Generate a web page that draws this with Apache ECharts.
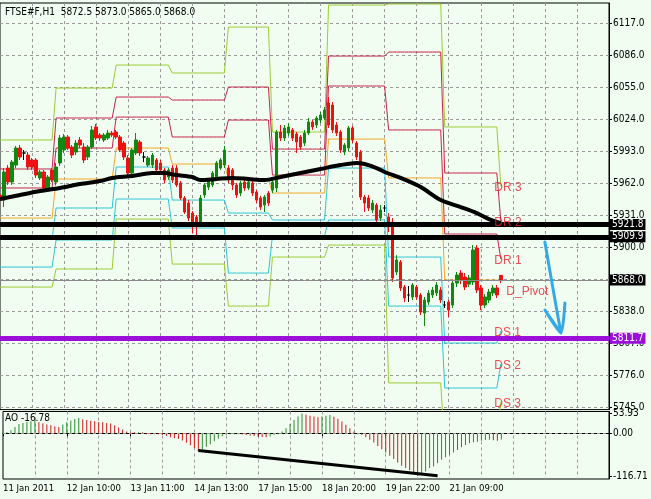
<!DOCTYPE html>
<html><head><meta charset="utf-8">
<script src="https://cdn.jsdelivr.net/npm/echarts@6/dist/echarts.min.js"></script>
<style>html,body{margin:0;padding:0;background:#F0FDF0;}#c{width:651px;height:499px;}</style>
</head><body><div id="c"></div>
<script>
// ---------------- DATA ----------------
const symbolName = 'FTSE#F,H1';
const lastQuote = [5872.5, 5873.0, 5865.0, 5868.0];
const timeLabels = ['11 Jan 2011','12 Jan 10:00','13 Jan 11:00','14 Jan 13:00','17 Jan 15:00','18 Jan 20:00','19 Jan 22:00','21 Jan 09:00'];
const priceTicks = [6117,6086,6055,6024,5993,5962,5931,5900,5869,5838,5807,5776,5745];
const aoTicks = [53.93, 0, -116.71];
// [open, close, low, high]
const candles = [
[5950.4,5945.5,5940.7,5953.3],[5945.5,5972.7,5938.7,5976.5],[5976.5,5963.0,5960.1,5979.4],[5963.0,5982.3,5960.1,5984.3],
[5979.4,5995.9,5976.5,5997.9],[5995.9,5987.2,5984.3,5998.8],[5991.1,5991.1,5984.3,5994.0],[5989.1,5977.5,5974.6,5992.0],
[5984.3,5977.5,5974.6,5986.2],[5984.3,5969.7,5966.9,5986.2],[5966.9,5972.7,5964.9,5974.6],[5972.7,5957.2,5955.2,5974.6],
[5957.2,5967.8,5954.2,5969.7],[5974.6,5964.9,5963.0,5976.5],[5963.0,5977.5,5960.1,5981.4],[5981.4,6005.6,5978.5,6008.5],
[5994.0,6006.6,5991.1,6009.5],[6006.6,5995.9,5994.0,6008.5],[5996.9,5989.1,5986.2,5998.8],[5992.0,6000.7,5989.1,6003.7],
[6003.7,5998.8,5995.9,6006.6],[5996.9,5984.3,5981.4,6000.7],[5987.2,5996.9,5984.3,5998.8],[5996.9,6013.4,5994.9,6017.2],
[6016.3,6005.6,6003.7,6019.2],[6008.5,6005.6,6002.7,6010.4],[6003.7,6008.5,6001.7,6010.4],[6005.6,6010.4,6003.7,6013.4],
[6010.4,6008.5,6006.6,6012.4],[6011.4,6006.6,6004.6,6013.4],[6006.6,5994.0,5992.0,6008.5],[6000.7,5987.2,5984.3,6002.7],
[5986.2,5971.7,5969.7,5989.1],[5971.7,5994.0,5968.8,5995.9],[5991.1,6003.7,5989.1,6010.4],[6001.7,5991.1,5988.2,6003.7],
[5987.2,5987.2,5982.3,5992.0],[5979.4,5986.2,5977.5,5988.2],[5979.4,5989.1,5976.5,5991.1],[5984.3,5974.6,5972.7,5986.2],
[5981.4,5974.6,5971.7,5984.3],[5974.6,5964.9,5962.0,5976.5],[5967.8,5974.6,5964.9,5976.5],[5976.5,5964.9,5962.0,5979.4],
[5976.5,5960.1,5958.1,5979.4],[5962.0,5947.5,5945.5,5964.0],[5947.5,5933.9,5932.0,5949.4],[5942.6,5928.1,5925.2,5945.5],
[5932.9,5924.2,5913.6,5934.9],[5929.1,5920.3,5911.6,5931.0],[5924.2,5947.5,5921.3,5950.4],[5950.4,5960.1,5947.5,5962.0],
[5958.1,5964.9,5955.2,5966.9],[5960.1,5971.7,5958.1,5973.6],[5967.8,5981.4,5964.9,5983.3],[5976.5,5984.3,5974.6,5986.2],
[5979.4,5994.0,5976.5,5997.9],[5976.5,5964.9,5962.0,5979.4],[5974.6,5960.1,5955.2,5976.5],[5960.1,5950.4,5947.5,5962.0],
[5952.3,5962.0,5949.4,5964.0],[5963.0,5957.2,5954.2,5964.9],[5957.2,5963.0,5955.2,5964.9],[5962.0,5952.3,5949.4,5964.0],
[5953.3,5945.5,5942.6,5955.2],[5947.5,5938.7,5935.9,5949.4],[5940.7,5948.4,5933.9,5950.4],[5952.3,5942.6,5939.7,5954.2],
[5955.2,5963.0,5952.3,5966.9],[5957.2,6011.4,5953.3,6013.4],[6011.4,6005.6,6002.7,6018.2],[6005.6,6015.3,6002.7,6018.2],
[6010.4,6016.3,6007.5,6020.1],[6013.4,6005.6,6002.7,6015.3],[6009.5,6001.7,5991.1,6011.4],[6006.6,5996.9,5994.0,6008.5],
[6000.7,6010.4,5997.9,6013.4],[6010.4,6021.1,6008.5,6025.0],[6021.1,6016.3,6013.4,6023.0],[6018.2,6025.0,6015.3,6026.9],
[6023.0,6027.9,6020.1,6030.8],[6025.0,6032.7,6023.0,6035.6],[6039.5,6018.2,6015.3,6045.3],[6037.6,6013.4,6010.4,6040.5],
[6018.2,6010.4,6007.5,6021.1],[6011.4,5994.0,5991.1,6013.4],[5992.0,5998.8,5989.1,6000.7],[5995.9,6015.3,5993.0,6017.2],
[6015.3,6003.7,6000.7,6017.2],[6000.7,5987.2,5984.3,6002.7],[5992.0,5948.4,5945.5,5994.0],[5948.4,5942.6,5933.9,5950.4],
[5947.5,5937.8,5934.9,5950.4],[5935.9,5942.6,5932.9,5945.5],[5940.7,5926.2,5921.3,5942.6],[5928.1,5935.9,5925.2,5940.7],
[5937.8,5937.8,5933.9,5940.7],[5929.1,5919.4,5914.5,5932.9],[5924.2,5870.0,5866.1,5928.1],[5875.8,5887.4,5872.9,5892.2],
[5885.5,5860.3,5857.4,5887.4],[5861.2,5850.6,5846.7,5863.2],[5853.5,5853.5,5846.7,5862.2],[5851.6,5863.2,5848.7,5865.1],
[5861.2,5851.6,5848.7,5863.2],[5853.5,5837.0,5834.1,5855.4],[5836.0,5848.7,5823.4,5851.6],[5846.7,5855.4,5843.8,5858.3],
[5853.5,5858.3,5850.6,5861.2],[5855.4,5863.2,5852.5,5866.1],[5858.3,5848.7,5845.7,5861.2],[5843.8,5843.8,5840.9,5847.7],
[5846.7,5838.9,5832.2,5848.7],[5843.8,5865.1,5840.9,5868.0],[5865.1,5872.9,5861.2,5875.8],[5874.8,5868.0,5864.1,5877.7],
[5870.9,5861.2,5858.3,5874.8],[5864.1,5870.0,5861.2,5872.9],[5866.1,5897.1,5863.2,5901.9],[5899.0,5858.3,5855.4,5901.9],
[5860.3,5843.8,5838.9,5863.2],[5843.8,5851.6,5840.9,5854.5],[5848.7,5856.4,5845.7,5859.3],[5855.4,5860.3,5852.5,5863.2],
[5860.3,5853.5,5850.6,5863.2],[5872.5,5868.0,5865.0,5873.0]
];
// moving average samples [bar, price]
const maPoints = [[0,5946.5],[5,5950.4],[10,5954.2],[15,5957.2],[20,5961.0],[25,5963.9],[28,5966.9],[33,5968.8],[38,5971.7],[41,5971.7],[44,5969.7],[48,5967.8],[50,5964.9],[54,5965.9],[58,5966.9],[62,5965.9],[66,5964.9],[70,5967.8],[75,5971.7],[80,5975.6],[85,5979.4],[89,5981.4],[91,5980.4],[94,5976.5],[96,5972.7],[100,5966.9],[105,5958.1],[110,5945.5],[115,5938.7],[119,5932.9],[122,5927.1],[125,5923.2]];
// daily pivot levels: one per day (day starts below) + next-day value on last bar
const dayStart = [0,14,29,43,57,68,82,97,111];
const pivotR3 = [6003.7,6054.0,6076.3,6068.6,6113.1,6011.4,6134.4,6135.4,6016.3,5959.1];
const pivotR2 = [5975.6,6025.0,6045.3,6042.4,6055.0,5994.9,6085.0,6088.9,5971.7,5925.2];
const pivotR1 = [5957.2,5995.9,6025.9,6006.6,6023.0,5969.7,6056.0,6013.4,5912.6,5888.4];
const pivotP  = [5928.1,5965.9,5995.9,5980.4,5965.9,5952.3,6004.6,5966.9,5868.0,5867.1];
const pivotS1 = [5907.7,5937.8,5977.5,5945.5,5932.9,5926.2,5976.5,5890.3,5807.0,5818.6];
const pivotS2 = [5880.6,5906.8,5946.5,5918.4,5874.8,5910.7,5926.2,5842.8,5763.4,5786.7];
const pivotS3 = [5861.2,5878.7,5927.1,5883.5,5842.8,5890.3,5901.9,5768.3,5705.3,5749.9];
const pivotNames = ['DR 3','DR 2','DR 1','D_Pivot','DS 1','DS 2','DS 3'];
const blackLevels = [5921.8, 5909.9];
const purpleLevel = 5811.7;
const aoValues = [0.5,1,8,17,25,28,31,33,36,30,27,24,22,19,17,24,30,35,39,42,
38,36,34,33,31,30,28,27,22,16,10,5,1,0.5,1,0.5,-0.5,-1,-1.5,-2,
-4.6,-7.3,-11,-13.8,-16,-20,-26,-33,-40,-49,-44,-37,-30,-22,-15,-8,-4,-2,-0.5,-1.5,
-3,-5,-6,-7.3,-9,-10,-11,-9,-5,-1,5,14,25,36,46,53.93,51,48,46,44,
46,48,50,45,40,32,23,14,5,-1,-5,-11,-18,-25.5,-34.5,-43.5,-52.5,-61.6,-70.6,-79.7,
-88.7,-95,-101.4,-108.6,-116.71,-113.3,-104.3,-95.2,-90.7,-81.7,-72.6,-65.4,-59,-52.7,-45.5,-38.3,-31.9,-27.4,-24.7,-22.9,
-20.2,-18.4,-17.5,-19,-20.5,-16.78];
const aoTrend = [[49,-47],[109,-116]];
const arrowPath = [[136,5904.9],[137.6,5860],[139.8,5816.7],[135.5,5839.0],[139.8,5816.7],[141.3,5845.8]];

// ---------------- BUILD ----------------
const N_SLOTS = 153;
const cats = [];
for (let i = 0; i < N_SLOTS; i++) cats.push(String(i));
const nBars = candles.length;
function dayOf(i){ let d = 0; for (let k = 0; k < dayStart.length; k++) if (i >= dayStart[k]) d = k; return d; }
function pivotSeries(levels){
  const out = [];
  for (let i = 0; i < nBars; i++) out.push(i === nBars - 1 ? levels[levels.length - 1] : levels[dayOf(i)]);
  return out;
}
const FONT = "'DejaVu Sans Condensed', 'Liberation Sans', sans-serif";
const FONT2 = "'Liberation Sans', Arial, sans-serif";
const UP = '#118811', DN = '#EE1111';
const OLIVE = '#9ACD32', CRIM = '#C8234A', ORNG = '#F5A623', CYAN = '#2EC5D6';
const pivotDefs = [[pivotR3,OLIVE],[pivotR2,CRIM],[pivotR1,CRIM],[pivotP,ORNG],[pivotS1,CYAN],[pivotS2,CYAN],[pivotS3,OLIVE]];
const gridDash = {color:'#9a9a9a', type:[3,3], width:1};

const series = [];
pivotDefs.forEach(([lv,col]) => series.push({
  type:'line', xAxisIndex:0, yAxisIndex:0, data: pivotSeries(lv), showSymbol:false, symbol:'none',
  lineStyle:{color:col, width:1}, z:1, silent:true
}));
series.push({
  type:'candlestick', xAxisIndex:0, yAxisIndex:0, barWidth:3, z:3,
  itemStyle:{color:UP, color0:DN, borderColor:UP, borderColor0:DN, borderWidth:1},
  data: candles.map(c => c[0] === c[1]
     ? {value:c, itemStyle:{color:'#000', color0:'#000', borderColor:'#000', borderColor0:'#000'}}
     : c)
});
series.push({
  type:'line', xAxisIndex:0, yAxisIndex:0, data: maPoints, showSymbol:false, symbol:'none',
  smooth:0.3, lineStyle:{color:'#000', width:4}, z:4
});
// horizontal levels with axis tags
const tag = (bg) => ({show:true, position:'end', distance:1, formatter:(p)=>Number(p.value).toFixed(1),
  backgroundColor:bg, color:'#fff', padding:[1,2,0,2], fontSize:10, fontFamily:FONT});
series.push({
  type:'line', xAxisIndex:0, yAxisIndex:0, data:[], z:5,
  markLine:{symbol:'none', silent:true, animation:false, data:[
    {yAxis:lastQuote[3], lineStyle:{color:'#8a8a8a', width:1, type:'solid'}, label:tag('#000')},
    {yAxis:blackLevels[0], lineStyle:{color:'#000', width:5, type:'solid'}, label:tag('#000')},
    {yAxis:blackLevels[1], lineStyle:{color:'#000', width:5, type:'solid'}, label:tag('#000')},
    {yAxis:purpleLevel, lineStyle:{color:'#9B10D8', width:5, type:'solid'}, label:tag('#9B10D8')}
  ]}
});
// pivot name labels
series.push({
  type:'scatter', xAxisIndex:0, yAxisIndex:0, symbolSize:1, itemStyle:{color:'rgba(0,0,0,0)'}, z:6, silent:true,
  data: pivotDefs.map(([lv],k) => ({
    value:[k === 3 ? 126 : 123, lv[lv.length-1]], name:pivotNames[k],
    label:{show:true, position:'right', distance:1, formatter:pivotNames[k], color:'#E0242E',
      fontSize:12, fontFamily:FONT2, offset:[0, k === 3 ? 11 : 2]}
  }))
});
// arrow annotation
series.push({
  type:'line', xAxisIndex:0, yAxisIndex:0, data: arrowPath, showSymbol:false, symbol:'none', smooth:0.2,
  lineStyle:{color:'#35A9E6', width:3, cap:'round', join:'round'}, z:6, silent:true
});
// AO histogram
series.push({
  type:'bar', xAxisIndex:1, yAxisIndex:1, barWidth:1, barMinHeight:1, z:2,
  data: aoValues.map((v,i) => ({value:v, itemStyle:{color: (i === 0 || v >= aoValues[i-1]) ? '#2C8C2C' : '#D41A1A'}})),
  markLine:{symbol:'none', silent:true, animation:false, label:{show:false},
    data:[{yAxis:0, lineStyle:{color:'#9a9a9a', type:[3,3], width:1}}]}
});
series.push({
  type:'line', xAxisIndex:1, yAxisIndex:1, data: aoTrend, showSymbol:false, symbol:'none',
  lineStyle:{color:'#000', width:3}, z:4
});

const option = {
  backgroundColor:'#F0FDF0',
  animation:false,
  title:[
    {text: symbolName + '  ' + lastQuote.map(v=>v.toFixed(1)).join(' '), left:5, top:7, padding:0,
     textStyle:{fontSize:10, fontWeight:'normal', color:'#000', fontFamily:FONT}},
    {text: 'AO ' + aoValues[aoValues.length-1].toFixed(2), left:5, top:413, padding:0,
     textStyle:{fontSize:10, fontWeight:'normal', color:'#000', fontFamily:FONT}}
  ],
  grid:[
    {left:0, top:3, width:609, height:406.6, show:true, borderColor:'#000', borderWidth:1, backgroundColor:'transparent'},
    {left:0, top:411.5, width:609, height:67.5, show:true, borderColor:'#000', borderWidth:1, backgroundColor:'transparent'}
  ],
  xAxis:[
    {gridIndex:0, type:'category', data:cats, boundaryGap:false,
     axisLine:{show:false}, axisTick:{show:false}, axisLabel:{show:false},
     splitLine:{show:true, interval:(i)=> i % 8 === 0 && i > 0, lineStyle:gridDash}},
    {gridIndex:1, type:'category', data:cats, boundaryGap:false,
     axisLine:{show:true, lineStyle:{color:'#000'}},
     axisTick:{show:true, length:3, interval:(i)=> i % 16 === 0 && i/16 < timeLabels.length, lineStyle:{color:'#000'}},
     axisLabel:{show:true, interval:(i)=> i % 16 === 0 && i/16 < timeLabels.length, align:'left', margin:5,
       formatter:(v,i)=> timeLabels[i/16] || '', fontSize:9.5, color:'#000', fontFamily:FONT},
     splitLine:{show:true, interval:(i)=> i % 8 === 0 && i > 0, lineStyle:gridDash}}
  ],
  yAxis:[
    {gridIndex:0, type:'value', position:'right', min:5742.5, max:6136.4, scale:true,
     axisLine:{show:true, lineStyle:{color:'#000'}},
     axisTick:{show:true, length:3, customValues:priceTicks, lineStyle:{color:'#000'}},
     axisLabel:{show:true, customValues:priceTicks, margin:4, formatter:(v)=>Number(v).toFixed(1),
       fontSize:10, color:'#000', fontFamily:FONT},
     splitLine:{show:true, lineStyle:gridDash}},
    {gridIndex:1, type:'value', position:'right', min:-125, max:59.5, scale:true,
     axisLine:{show:true, lineStyle:{color:'#000'}},
     axisTick:{show:true, length:3, customValues:aoTicks, lineStyle:{color:'#000'}},
     axisLabel:{show:true, customValues:aoTicks, margin:4, formatter:(v)=>Number(v).toFixed(2),
       fontSize:10, color:'#000', fontFamily:FONT},
     splitLine:{show:false}}
  ],
  series: series
};
const chart = echarts.init(document.getElementById('c'), null, {renderer:'canvas'});
chart.setOption(option);
</script>
</body></html>
